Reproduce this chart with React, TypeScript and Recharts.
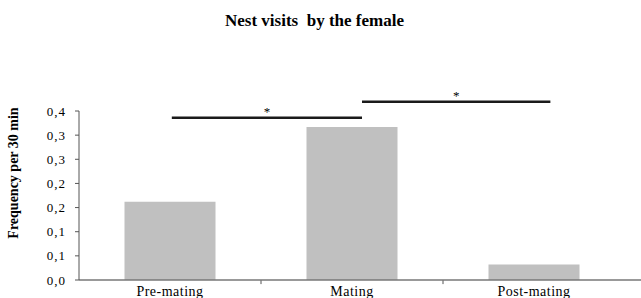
import React from "react";
import { BarChart, Bar, XAxis, YAxis, ReferenceLine } from "recharts";

const categories = ["Pre-mating", "Mating", "Post-mating"];
const frequency = [0.162, 0.317, 0.032];
const categoryCenters = [0.5, 1.5, 2.5];
const yTicks = [0, 0.05, 0.1, 0.15, 0.2, 0.25, 0.3, 0.35];
const yTickLabels = ["0,0", "0,1", "0,1", "0,2", "0,2", "0,3", "0,3", "0,4"];
const sigFrom = [0.51, 1.555];
const sigTo = [1.555, 2.59];
const sigLevel = [0.336, 0.369];
const sigMark = ["*", "*"];
const boundaryTicks = [1, 2];

const data = categories.map((c, i) => ({ category: c, value: frequency[i], pos: categoryCenters[i] }));
const FONT = "'Liberation Serif', 'Times New Roman', serif";

export default function App() {
  return (
    <div style={{ position: "absolute", left: 0, top: 0, width: 641, height: 298, background: "#fff" }}>
      <BarChart
        width={641}
        height={298}
        data={data}
        margin={{ top: 111, right: 0, bottom: 0, left: 0 }}
        barCategoryGap="25%"
      >
        <XAxis
          xAxisId="cat"
          dataKey="category"
          height={18}
          padding={{ left: 0, right: 16 }}
          tickLine={false}
          tickSize={0}
          tickMargin={6}
          axisLine={{ stroke: "#777", strokeWidth: 1.5 }}
          tick={{ fill: "#000", fontSize: 14, fontFamily: FONT, letterSpacing: 0.5 }}
          interval={0}
        />
        <XAxis
          xAxisId="pos"
          dataKey="pos"
          type="number"
          domain={[0, 3]}
          allowDataOverflow
          hide
          padding={{ left: 0, right: 16 }}
        />
        <YAxis
          width={79}
          domain={[0, 0.35]}
          ticks={yTicks}
          interval={0}
          tickSize={4}
          tickMargin={9}
          tickFormatter={(v: number) => yTickLabels[yTicks.indexOf(v)] ?? ""}
          axisLine={{ stroke: "#555" }}
          tickLine={{ stroke: "#555" }}
          tick={{ fill: "#000", fontSize: 13, fontFamily: FONT, letterSpacing: 1 }}
        />
        <Bar xAxisId="cat" dataKey="value" fill="#c0c0c0" isAnimationActive={false} />
        {boundaryTicks.map((b) => (
          <ReferenceLine
            key={"b" + b}
            xAxisId="pos"
            ifOverflow="visible"
            segment={[
              { x: b, y: 0 },
              { x: b, y: -0.0085 },
            ]}
            stroke="#555"
          />
        ))}
        {sigLevel.map((lv, i) => (
          <ReferenceLine
            key={"s" + i}
            xAxisId="pos"
            ifOverflow="visible"
            segment={[
              { x: sigFrom[i], y: lv },
              { x: sigTo[i], y: lv },
            ]}
            stroke="#1a1a1a"
            strokeWidth={2.5}
            label={{ value: sigMark[i], position: "top", offset: 2, fill: "#000", fontSize: 13, fontFamily: FONT }}
          />
        ))}
      </BarChart>
      <svg width={641} height={298} style={{ position: "absolute", left: 0, top: 0, pointerEvents: "none" }}>
        <text
          x={314.5}
          y={26}
          textAnchor="middle"
          fontFamily={FONT}
          fontWeight="bold"
          fontSize={17}
          fill="#000"
          style={{ whiteSpace: "pre" }}
        >
          {"Nest visits  by the female"}
        </text>
        <text
          x={0}
          y={0}
          transform="translate(18,173) rotate(-90)"
          textAnchor="middle"
          fontFamily={FONT}
          fontWeight="bold"
          fontSize={14}
          fill="#000"
        >
          Frequency per 30 min
        </text>
      </svg>
    </div>
  );
}
